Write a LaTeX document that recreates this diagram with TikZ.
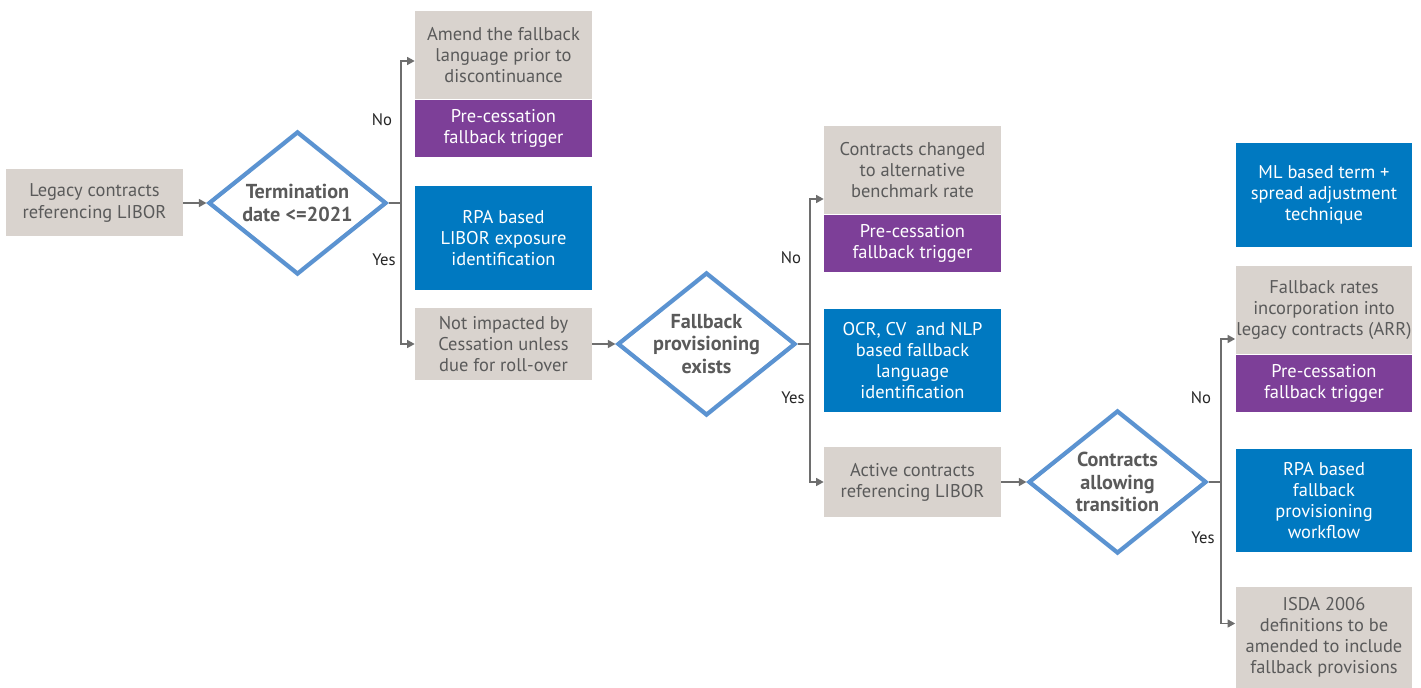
\documentclass[tikz,border=0pt]{standalone}
\usepackage{fontspec}
\setmainfont{PT Sans}
\usetikzlibrary{arrows.meta,calc,positioning,shapes.geometric}
\definecolor{BoxGray}{HTML}{D9D3CE}
\definecolor{TextGray}{HTML}{5A5A5A}
\definecolor{TriggerPurple}{HTML}{7D3F98}
\definecolor{ToolBlue}{HTML}{0079C1}
\definecolor{EdgeBlue}{HTML}{5B93D1}
\definecolor{LineGray}{HTML}{6E6E6E}

\begin{document}
\begin{tikzpicture}[x=0.02cm,y=-0.02cm,
    box/.style={rectangle,inner sep=0pt,minimum width=3.54cm,align=center,
                font=\fontsize{10.5}{12}\selectfont},
    gbox/.style={box,fill=BoxGray,text=TextGray},
    pbox/.style={box,fill=TriggerPurple,text=white},
    bbox/.style={box,fill=ToolBlue,text=white},
    dec/.style={diamond,draw=EdgeBlue,line width=2.4pt,fill=white,inner sep=0pt,
                minimum width=3.56cm,minimum height=2.86cm,
                label={[font=\bfseries\fontsize{11.5}{13}\selectfont,text=TextGray,align=center]center:#1}},
    conn/.style={-{Triangle[length=1.5mm,width=1.6mm]},line width=0.7pt,LineGray},
    lbl/.style={font=\fontsize{9.5}{11}\selectfont,text=black!85}]
    \useasboundingbox[fill=white] (0,0) rectangle (1421,688);
    % first decision
    \node[gbox,minimum height=1.34cm] (legacy) at (94.5,203) {Legacy contracts\\referencing LIBOR};
    \node[dec={Termination\\date <=2021}] (term) at (297.5,203) {};
    \node[gbox,minimum height=1.76cm] (amend) at (503.5,55) {Amend the fallback\\language prior to\\discontinuance};
    \node[pbox,minimum height=1.14cm,below=0pt of amend] (trigA) {Pre-cessation\\fallback trigger};
    \node[bbox,minimum height=2.08cm] (rpaexp) at (503.5,238) {RPA based\\LIBOR exposure\\identification};
    \node[gbox,minimum height=1.44cm] (notimp) at (503.5,344) {Not impacted by\\Cessation unless\\due for roll-over};
    % second decision
    \node[dec={Fallback\\provisioning\\exists}] (fbexist) at (706.5,344) {};
    \node[gbox,minimum height=1.76cm] (changed) at (912.5,170) {Contracts changed\\to alternative\\benchmark rate};
    \node[pbox,minimum height=1.14cm,below=0pt of changed] (trigB) {Pre-cessation\\fallback trigger};
    \node[bbox,minimum height=2.06cm] (ocr) at (912.5,360.5) {OCR, CV\ \ and NLP\\based fallback\\language\\identification};
    \node[gbox,minimum height=1.42cm] (active) at (912.5,482) {Active contracts\\referencing LIBOR};
    % third decision
    \node[dec={Contracts\\allowing\\transition}] (allow) at (1117.5,482) {};
    \node[bbox,minimum height=2.08cm] (mlterm) at (1324,195) {ML based term +\\spread adjustment\\technique};
    \node[gbox,minimum height=1.76cm] (fbrates) at (1324,310) {Fallback rates\\incorporation into\\legacy contracts (ARR)};
    \node[pbox,minimum height=1.14cm,below=0pt of fbrates] (trigC) {Pre-cessation\\fallback trigger};
    \node[bbox,minimum height=2.06cm] (rpawf) at (1324,500.5) {RPA based\\fallback\\provisioning\\workflow};
    \node[gbox,minimum height=2.02cm] (isda) at (1324,637.5) {ISDA 2006\\definitions to be\\amended to include\\fallback provisions};
    % branch points
    \coordinate (j1) at (401,203);
    \coordinate (j2) at (810,344);
    \coordinate (j3) at (1221,482);
    % connectors
    \draw[conn] (legacy) -- (term);
    \draw[conn] (term.east) -- (j1) |- ($(amend.west)+(0,6)$);
    \draw[conn] (j1) |- (notimp.west);
    \draw[conn] (notimp) -- (fbexist);
    \draw[conn] (fbexist.east) -- (j2) |- ($(changed.west)+(0,29)$);
    \draw[conn] (j2) |- (active.west);
    \draw[conn] (active) -- (allow);
    \draw[conn] (allow.east) -- (j3) |- ($(fbrates.west)+(0,29)$);
    \draw[conn] (j3) |- ($(isda.west)+(0,-14)$);
    % branch labels
    \node[lbl] (noA) at (382,120) {No};
    \node[lbl] (yesA) at (384,260) {Yes};
    \node[lbl] (noB) at (791,258) {No};
    \node[lbl] (yesB) at (793,398) {Yes};
    \node[lbl] (noC) at (1201,398) {No};
    \node[lbl] (yesC) at (1203,538) {Yes};
\end{tikzpicture}
\end{document}
